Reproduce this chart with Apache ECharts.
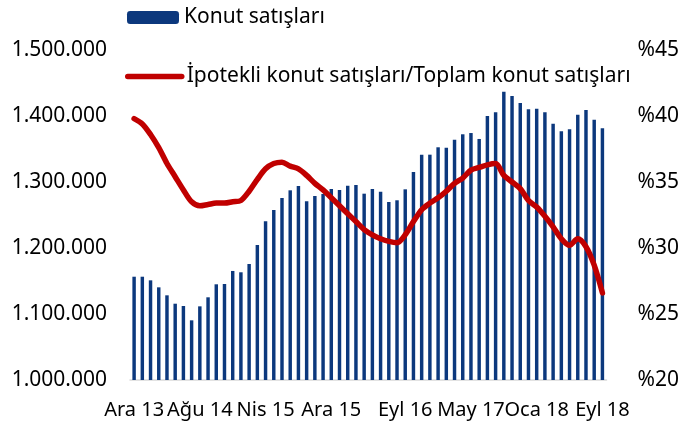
<!DOCTYPE html>
<html>
<head>
<meta charset="utf-8">
<script src="https://cdn.jsdelivr.net/npm/echarts@6/dist/echarts.min.js"></script>
<style>
  html, body { margin: 0; padding: 0; background: #fff; }
  #chart { width: 682px; height: 425px; }
</style>
</head>
<body>
<div id="chart"></div>
<script>
'use strict';
// aylar: Ara 13 - Eyl 18
var months = [
  'Ara 13',
  'Oca 14','Şub 14','Mar 14','Nis 14','May 14','Haz 14','Tem 14','Ağu 14','Eyl 14','Eki 14','Kas 14','Ara 14',
  'Oca 15','Şub 15','Mar 15','Nis 15','May 15','Haz 15','Tem 15','Ağu 15','Eyl 15','Eki 15','Kas 15','Ara 15',
  'Oca 16','Şub 16','Mar 16','Nis 16','May 16','Haz 16','Tem 16','Ağu 16','Eyl 16','Eki 16','Kas 16','Ara 16',
  'Oca 17','Şub 17','Mar 17','Nis 17','May 17','Haz 17','Tem 17','Ağu 17','Eyl 17','Eki 17','Kas 17','Ara 17',
  'Oca 18','Şub 18','Mar 18','Nis 18','May 18','Haz 18','Tem 18','Ağu 18','Eyl 18'
];

// Konut satışları (sol eksen)
var sales = [
  1156500, 1156500, 1151000, 1140400, 1128300, 1115600, 1112100, 1090400, 1111600, 1125300,
  1145000, 1145500, 1165200, 1163200, 1175800, 1204500, 1240400, 1257600, 1275800, 1287400,
  1293900, 1270800, 1278800, 1281800, 1289400, 1287900, 1294400, 1295500, 1282300, 1289400,
  1285300, 1269700, 1272300, 1288900, 1315200, 1341400, 1341400, 1352600, 1352000, 1364100,
  1372300, 1374200, 1365200, 1400000, 1405600, 1436800, 1430300, 1419700, 1410200, 1411100,
  1405600, 1388300, 1376800, 1379800, 1402000, 1409100, 1394400, 1381400
];

// İpotekli / toplam oranı, % (sağ eksen)
var ratio = [
  39.8, 39.4, 38.6, 37.6, 36.4, 35.4, 34.4, 33.5, 33.2, 33.3,
  33.4, 33.4, 33.5, 33.6, 34.3, 35.2, 36.0, 36.4, 36.5, 36.2,
  36.0, 35.5, 34.9, 34.4, 33.8, 33.2, 32.6, 32.0, 31.4, 31.0,
  30.7, 30.5, 30.4, 31.0, 32.0, 32.9, 33.4, 33.8, 34.3, 34.9,
  35.3, 35.9, 36.1, 36.3, 36.4, 35.5, 35.0, 34.5, 33.6, 33.1,
  32.4, 31.6, 30.7, 30.2, 30.7, 30.1, 28.7, 26.6
];

// gösterilen etiketlerin indeksleri
var labelIdx = [0, 8, 16, 24, 33, 41, 49, 57];

var barName = 'Konut satışları';
var lineName = 'İpotekli konut satışları/Toplam konut satışları';
var font = 'Noto Sans';

var chart = echarts.init(document.getElementById('chart'), null, { renderer: 'canvas' });

chart.setOption({
  animation: false,
  textStyle: { fontFamily: font },
  legend: [
    {
      data: [barName],
      left: 127, top: 7, padding: 0,
      itemWidth: 52, itemHeight: 13,
      textStyle: { fontFamily: font, fontSize: 21, color: '#000' }
    },
    {
      data: [lineName],
      left: 125, top: 66, padding: 0,
      itemWidth: 54, itemHeight: 13,
      itemStyle: { opacity: 0 },
      lineStyle: { width: 5.5, cap: 'round' },
      textStyle: { fontFamily: font, fontSize: 21, color: '#000' }
    }
  ],
  grid: { left: 130, right: 75, top: 50, bottom: 45 },
  xAxis: {
    type: 'category',
    data: months,
    boundaryGap: true,
    axisLine: { lineStyle: { color: '#d9d9d9', width: 1.5 } },
    axisTick: {
      length: 9,
      lineStyle: { color: '#d0d0d0', width: 1.5 },
      interval: function (i) { return labelIdx.indexOf(i) >= 0; }
    },
    axisLabel: {
      interval: function (i) { return labelIdx.indexOf(i) >= 0; },
      margin: 20,
      fontFamily: font, fontSize: 20, color: '#000'
    }
  },
  yAxis: [
    {
      type: 'value',
      min: 1000000, max: 1500000, interval: 100000,
      splitLine: { show: false },
      axisLine: { show: false },
      axisTick: { show: false },
      axisLabel: {
        margin: 23,
        fontFamily: font, fontSize: 21, color: '#000',
        formatter: function (v) {
          return String(v).replace(/\B(?=(\d{3})+(?!\d))/g, '.');
        }
      }
    },
    {
      type: 'value',
      min: 20, max: 45, interval: 5,
      splitLine: { show: false },
      axisLine: { show: false },
      axisTick: { show: false },
      axisLabel: {
        margin: 31,
        fontFamily: font, fontSize: 21, color: '#000',
        formatter: function (v) { return '%' + v; }
      }
    }
  ],
  series: [
    {
      name: barName,
      type: 'bar',
      data: sales,
      barWidth: '42%',
      itemStyle: { color: '#0c387d' }
    },
    {
      name: lineName,
      type: 'line',
      yAxisIndex: 1,
      data: ratio,
      smooth: 0.3,
      symbol: 'none',
      lineStyle: { color: '#c00000', width: 5.5, cap: 'round', join: 'round' },
      itemStyle: { color: '#c00000' }
    }
  ]
});
</script>
</body>
</html>
